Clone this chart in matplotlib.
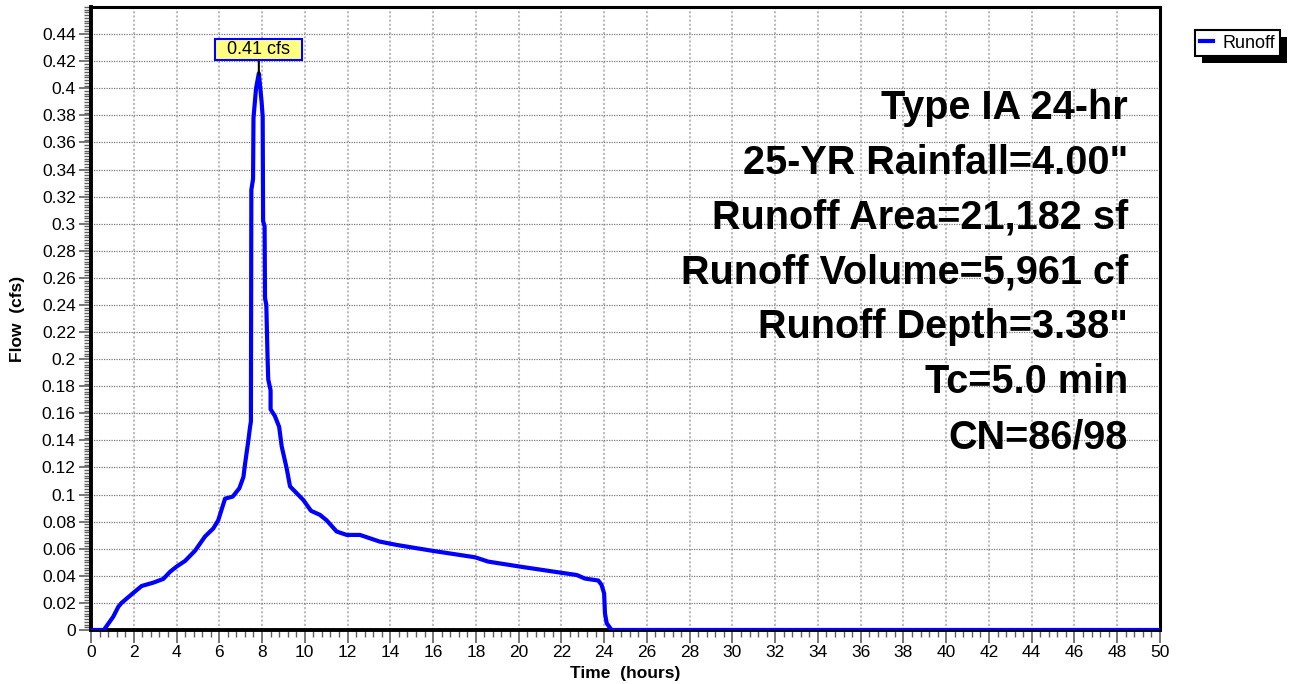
import matplotlib
matplotlib.use("Agg")
import matplotlib.pyplot as plt
from matplotlib.ticker import MultipleLocator, FuncFormatter
from matplotlib.patches import Rectangle

plt.rcParams["font.family"] = ["Liberation Sans", "DejaVu Sans"]

# Runoff hydrograph
time_hr = [0, 0.6, 1.04, 1.28, 1.43, 1.95, 2.37, 2.92, 3.38, 3.7, 4.0, 4.4,
           4.87, 5.33, 5.72, 5.95, 6.27, 6.63, 6.94, 7.13, 7.2, 7.36, 7.44,
           7.48, 7.50, 7.58, 7.60, 7.72, 7.85, 7.98, 8.03, 8.05, 8.12, 8.14,
           8.2, 8.26, 8.29, 8.4, 8.4, 8.6, 8.8, 8.92, 9.15, 9.31, 9.62, 9.93,
           10.29, 10.71, 11.02, 11.49, 11.96, 12.58, 13.5, 14.3, 16.0, 17.96,
           18.58, 20.07, 21.94, 22.72, 23.1, 23.73, 23.88, 24.0, 24.04, 24.12,
           24.35, 50]
flow_cfs = [0, 0, 0.0098, 0.0172, 0.020, 0.027, 0.0325, 0.035, 0.0377, 0.043,
            0.0468, 0.051, 0.0586, 0.069, 0.075, 0.081, 0.097, 0.0985, 0.1047,
            0.113, 0.122, 0.140, 0.150, 0.154, 0.325, 0.333, 0.378, 0.40, 0.411,
            0.39, 0.379, 0.302, 0.298, 0.245, 0.24, 0.2, 0.185, 0.177, 0.163,
            0.158, 0.150, 0.1355, 0.1195, 0.106, 0.101, 0.096, 0.088, 0.085,
            0.081, 0.0727, 0.0702, 0.0702, 0.0653, 0.0628, 0.0584, 0.0537,
            0.0505, 0.0468, 0.0424, 0.0406, 0.038, 0.0365, 0.0333, 0.027,
            0.0123, 0.005, 0.0, 0.0]

peak_time = 7.85
peak_flow = 0.41
peak_label = "0.41 cfs"

info_lines = ["Type IA 24-hr", "25-YR Rainfall=4.00\"", "Runoff Area=21,182 sf",
              "Runoff Volume=5,961 cf", "Runoff Depth=3.38\"", "Tc=5.0 min",
              "CN=86/98"]

W, H = 1294, 684
fig = plt.figure(figsize=(W / 100, H / 100), dpi=100)
ax = fig.add_axes([91 / W, 1 - 630 / H, (1160 - 91) / W, (630 - 7) / H])

ax.set_xlim(0, 50)
ax.set_ylim(0, 0.46)
ax.xaxis.set_major_locator(MultipleLocator(2))
ax.xaxis.set_minor_locator(MultipleLocator(0.4))
ax.yaxis.set_minor_locator(MultipleLocator(0.002))
ax.set_yticks([i * 0.02 for i in range(23)])
ax.yaxis.set_major_formatter(FuncFormatter(lambda v, p: f"{round(v, 2):g}"))

ax.grid(axis="x", which="major", color="#bcbcbc", linestyle=(0, (1, 1)), linewidth=1.5)
ax.grid(axis="y", which="major", color="#7a7a7a", linestyle=(0, (1, 1)), linewidth=0.9)
ax.set_axisbelow(True)

ax.tick_params(which="major", length=9, width=1.2, color="#606060", labelsize=12.5, pad=2)
ax.tick_params(which="minor", length=5, width=1.0, color="#606060")

for side in ["left", "bottom"]:
    ax.spines[side].set_linewidth(2.8)
for side in ["top", "right"]:
    ax.spines[side].set_linewidth(2.2)

ax.plot(time_hr, flow_cfs, color="#0000ff", linewidth=3, solid_joinstyle="round",
        label="Runoff", zorder=3)

ax.annotate("  " + peak_label + "  ", xy=(peak_time, peak_flow), xytext=(0, 18),
            textcoords="offset points", ha="center", va="center", fontsize=13,
            bbox=dict(boxstyle="square,pad=0.12", fc="#ffff80", ec="#0000ff", lw=1.5),
            arrowprops=dict(arrowstyle="-", color="black", lw=1.5, shrinkA=0, shrinkB=0),
            zorder=5)

y0 = (630 - 119.3) / 623
step = 54.8 / 623
for i, line in enumerate(info_lines):
    ax.text(0.970, y0 - i * step, line, transform=ax.transAxes, ha="right",
            va="baseline", fontsize=28.5, fontweight="bold", zorder=4)

ax.set_xlabel("Time  (hours)", fontsize=12.5, fontweight="bold")
ax.set_ylabel("Flow  (cfs)", fontsize=12.5, fontweight="bold")
ax.xaxis.set_label_coords(0.5, (630 - 666) / 623)
ax.yaxis.set_label_coords((25 - 91) / 1069, 0.5)
ax.xaxis.label.set_va("top")

leg = fig.legend(loc="upper left", bbox_to_anchor=(1195 / W, 1 - 30 / H),
                 fontsize=13, frameon=True, fancybox=False, edgecolor="black",
                 framealpha=1, handlelength=0.75, handletextpad=0.55,
                 borderpad=0.25, borderaxespad=0)
leg.get_frame().set_linewidth(1.5)
leg.set_zorder(5)

fig.canvas.draw()
bb = leg.get_window_extent()
shadow = Rectangle((bb.x0 + 7, bb.y0 - 7), bb.width, bb.height, transform=None,
                   facecolor="black", edgecolor="none", zorder=0)
fig.patches.append(shadow)

fig.savefig("out.png", dpi=100)
